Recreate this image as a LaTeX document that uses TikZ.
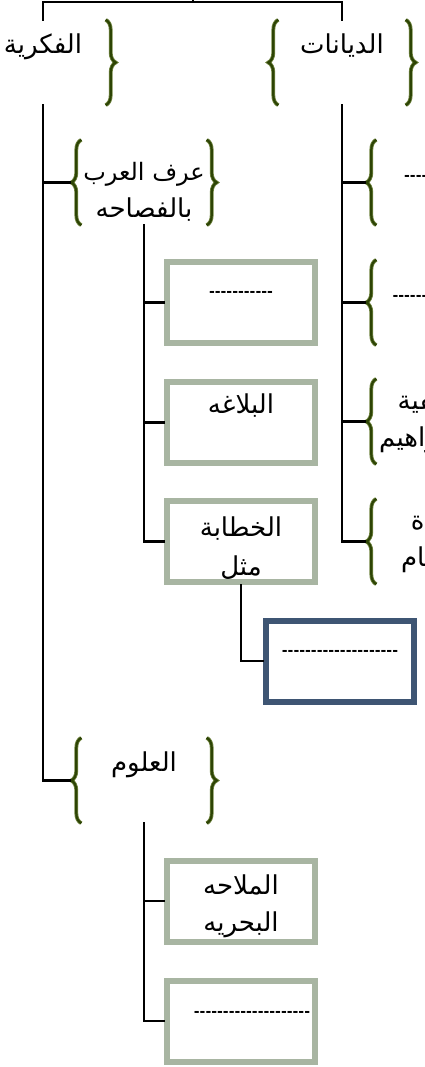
\documentclass[tikz,border=0pt]{standalone}
\usepackage{fontspec}
\newfontfamily\arabicfont[Script=Arabic]{DejaVu Sans}
\TeXXeTstate=1
\usetikzlibrary{decorations.pathreplacing}
\definecolor{braced}{RGB}{45,68,5}
\definecolor{bracel}{RGB}{112,132,64}
\definecolor{boxg}{RGB}{168,181,162}
\definecolor{boxb}{RGB}{62,85,115}
\newcommand\AR[1]{\beginR #1\endR}
\newcommand\DL[2]{{\fontsize{14}{16}\bfseries\selectfont\raisebox{#1pt}[0pt][0pt]{#2}}}
\begin{document}
\begin{tikzpicture}[x=1pt,y=-1pt,
 conn/.style={line width=2.4pt,line cap=rect},
 txt/.style={font=\arabicfont\fontsize{26}{37}\selectfont, align=center, inner sep=0pt},
 bnode/.style={txt, minimum width=148pt, minimum height=85pt},
 gbox/.style={txt, draw=boxg, line width=6pt, minimum width=148pt, minimum height=81pt},
 bbox/.style={gbox, draw=boxb},
 brl/.style={decorate, decoration={brace, amplitude=10pt}, draw=bracel, line width=3.8pt},
 brd/.style={decorate, decoration={brace, amplitude=10pt}, draw=braced, line width=2.2pt},
]
\useasboundingbox (0,0) rectangle (424,1067);
\clip (0,0) rectangle (424,1067);

% brace nodes
\node[bnode] (fikr) at (43,62.5) {\AR{الفكرية}\\\mbox{}};
\node[bnode, minimum width=150pt] (dyan) at (342,62.5) {\AR{الديانات}\\\mbox{}};
\node[bnode] (arab) at (144,182.5) {\rule{0pt}{36pt}{\fontsize{24}{37}\selectfont\AR{عرف العرب}}\\\AR{بالفصاحه}};
\node[bnode] (r1) at (439,182.5) {\DL{2}{------------}};
\node[bnode] (r2) at (439,302.5) {\DL{2}{----------------}};
\node[bnode] (r3) at (439,421.5) {\AR{الحنيفية}\\\AR{ملة إبراهيم}};
\node[bnode] (r4) at (439,541.5) {\AR{عبادة}\\\AR{الأصنام}};
\node[bnode] (ulum) at (144,780.5) {\AR{العلوم}\\\mbox{}};

% boxes
\node[gbox] (b1) at (241,302.5) {\DL{6}{-----------}};
\node[gbox] (b2) at (241,422.5) {\AR{البلاغه}\\\mbox{}};
\node[gbox] (b3) at (241,541.5) {\rule{0pt}{32pt}\AR{الخطابة}\\[2pt]\AR{مثل}};
\node[bbox] (blue) at (340,661) {\DL{5.5}{--------------------}};
\node[gbox] (b4) at (241,901) {\rule{0pt}{30pt}\AR{الملاحه}\\\AR{البحريه}};
\node[gbox] (b5) at (241,1021) {\DL{4.5}{\hspace*{22pt}--------------------}};

% braces
\foreach \n in {fikr,dyan,arab,r1,r2,r3,r4,ulum}{
  \draw[brl] ([xshift=11.5pt]\n.south west) -- ([xshift=11.5pt]\n.north west);
  \draw[brd] ([xshift=11.5pt]\n.south west) -- ([xshift=11.5pt]\n.north west);
  \draw[brl] ([xshift=-11.5pt]\n.north east) -- ([xshift=-11.5pt]\n.south east);
  \draw[brd] ([xshift=-11.5pt]\n.north east) -- ([xshift=-11.5pt]\n.south east);
}

% connectors
\coordinate (topmid) at (193,2);
\coordinate (par) at (193,-2);
\draw[conn] (fikr.north) |- (topmid) -| (dyan.north);
\draw[conn] (topmid) -- (par);
\draw[conn] (fikr.south) |- (ulum.west);
\draw[conn] (fikr.south |- arab.west) -- (arab.west);
\draw[conn] (dyan.south) |- (r4.west);
\foreach \n in {r1,r2,r3}{\draw[conn] (dyan.south |- \n.west) -- (\n.west);}
\draw[conn] (arab.south) |- (b3.west);
\foreach \n in {b1,b2}{\draw[conn] (arab.south |- \n.west) -- (\n.west);}
\draw[conn] (b3.south) |- (blue.west);
\draw[conn] (ulum.south) |- (b5.west);
\draw[conn] (ulum.south |- b4.west) -- (b4.west);
\end{tikzpicture}
\end{document}
